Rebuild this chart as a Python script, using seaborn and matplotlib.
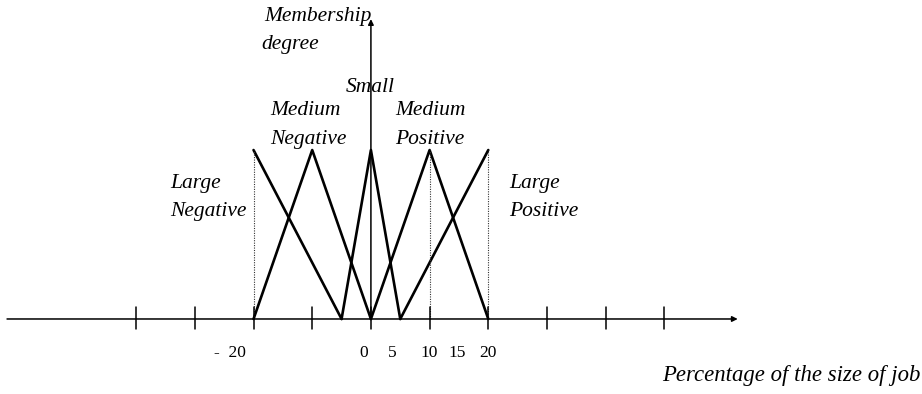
import matplotlib
matplotlib.use("Agg")
import matplotlib.pyplot as plt
import seaborn as sns
import pandas as pd

# membership functions (percentage, membership degree)
sets = {
    "Large Negative": ([-20, -20, -5], [0, 1, 0]),
    "Medium Negative": ([-20, -10, 0], [0, 1, 0]),
    "Small": ([-5, 0, 5], [0, 1, 0]),
    "Medium Positive": ([0, 10, 20], [0, 1, 0]),
    "Large Positive": ([5, 20, 20], [0, 1, 0]),
}
tick_positions = [-40, -30, -20, -10, 0, 10, 20, 30, 40, 50]
label_positions = [-24, -1.3, 3.6, 10, 14.7, 20]
tick_labels = ["-  20", "0", "5", "10", "15", "20"]
dotted_x = [-20, 10, 20]

rows = []
for name, (xs, ys) in sets.items():
    # the vertical edge of the "large" sets is only drawn dotted
    pts = list(zip(xs, ys))
    if xs[0] == xs[1]:
        pts = pts[1:]
    if xs[1] == xs[2]:
        pts = pts[:-1]
    for i, (x, y) in enumerate(pts):
        rows.append({"set": name, "x": x, "y": y, "order": i})
df = pd.DataFrame(rows)

sns.set_style("white")
plt.rcParams["font.family"] = ["Liberation Serif", "DejaVu Serif"]
plt.rcParams["text.color"] = "black"

fig = plt.figure(figsize=(9.22, 3.94), dpi=100)
ax = fig.add_axes([0, 0, 1, 1])
ax.set_xlim(-63.2, 93.9)
ax.set_ylim(-0.444, 1.888)
ax.axis("off")

for name, grp in df.groupby("set", sort=False):
    sns.lineplot(data=grp, x="x", y="y", sort=False, color="black",
                 linewidth=1.9, ax=ax, legend=False)

# dotted guides
for x in dotted_x:
    ax.plot([x, x], [0, 1], color="#333333", linestyle=(0, (1, 1.2)), linewidth=0.8)

# axes with arrows
ax.annotate("", xy=(62.5, 0), xytext=(-62.0, 0),
            arrowprops=dict(arrowstyle="-|>", color="black", lw=1.1,
                            mutation_scale=8, shrinkA=0, shrinkB=0))
ax.annotate("", xy=(0, 1.775), xytext=(0, 0),
            arrowprops=dict(arrowstyle="-|>", color="black", lw=1.1,
                            mutation_scale=8, shrinkA=0, shrinkB=0))

for x in tick_positions:
    ax.plot([x, x], [-0.06, 0.07], color="black", linewidth=1.1)

for x, lab in zip(label_positions, tick_labels):
    ax.text(x, -0.2, lab, ha="center", va="center", fontsize=12.5)

it = dict(style="italic", fontsize=15.5, va="baseline", ha="left")
ax.text(0.17, 1.765, "Membership", **dict(it, ha="right"))
ax.text(-18.6, 1.598, "degree", **it)
ax.text(-4.26, 1.345, "Small", **it)
ax.text(-17.2, 1.205, "Medium", **it)
ax.text(-17.2, 1.035, "Negative", **it)
ax.text(4.09, 1.205, "Medium", **it)
ax.text(4.09, 1.035, "Positive", **it)
ax.text(-34.2, 0.776, "Large", **it)
ax.text(-34.2, 0.612, "Negative", **it)
ax.text(23.5, 0.776, "Large", **it)
ax.text(23.5, 0.612, "Positive", **it)
ax.text(93.6, -0.333, "Percentage of the size of job", ha="right",
        style="italic", fontsize=16.4, va="center")

fig.savefig("out.png", dpi=100)
